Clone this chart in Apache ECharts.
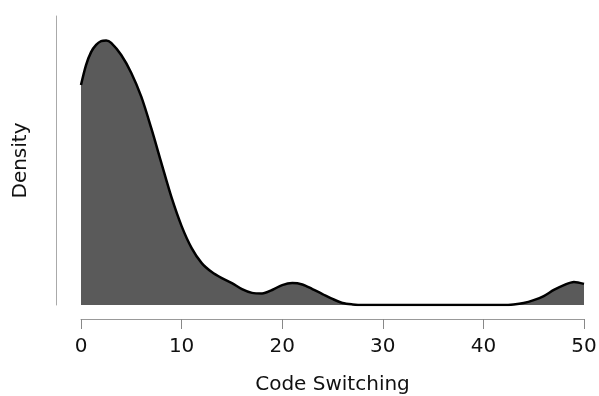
<!DOCTYPE html>
<html>
<head>
<meta charset="utf-8">
<script src="https://cdn.jsdelivr.net/npm/echarts@6/dist/echarts.min.js"></script>
<style>
  html, body { margin: 0; padding: 0; background: #fff; }
  #chart { width: 599px; height: 396px; }
</style>
</head>
<body>
<div id="chart"></div>
<script>
// kernel density estimate
const xValues = [0, 0.5, 1, 1.5, 2, 2.5, 3, 4, 5, 6, 7, 8, 9, 10, 11, 12, 13, 14, 15, 16, 17, 18, 19, 20,
  21, 22, 23, 24, 25, 26, 27, 28, 30, 32, 34, 36, 38, 40, 42, 43, 44, 45, 46, 47, 48, 49, 50];
const density = [0.0761, 0.0830, 0.0875, 0.0900, 0.0913, 0.0915, 0.0907, 0.0865, 0.0803, 0.0720, 0.0610,
  0.0490, 0.0372, 0.0273, 0.0197, 0.0145, 0.0114, 0.0093, 0.0076, 0.0055, 0.0042, 0.0040, 0.0052, 0.0069,
  0.0076, 0.0071, 0.0055, 0.0038, 0.0021, 0.0007, 0.0002, 0, 0, 0, 0, 0, 0, 0, 0, 0.0002, 0.0007, 0.0017,
  0.0031, 0.0052, 0.0069, 0.0080, 0.0073];
const xTicks = [0, 10, 20, 30, 40, 50];

const chart = echarts.init(document.getElementById("chart"));
const font = "DejaVu Sans";

chart.setOption({
  animation: false,
  grid: { left: 81, right: 15, top: 16, bottom: 91, outerBoundsMode: "none" },
  xAxis: {
    type: "value",
    min: xTicks[0],
    max: xTicks[xTicks.length - 1],
    interval: 10,
    offset: 14,
    name: "Code Switching",
    nameLocation: "middle",
    nameGap: 56,
    nameTextStyle: { fontFamily: font, fontSize: 20, color: "#111" },
    axisLine: { onZero: false, lineStyle: { color: "#999", width: 1 } },
    axisTick: { length: 10, lineStyle: { color: "#888" } },
    axisLabel: { fontFamily: font, fontSize: 20, color: "#111", margin: 18 },
    splitLine: { show: false }
  },
  yAxis: {
    type: "value",
    min: 0,
    max: 0.1,
    offset: 25,
    name: "Density",
    nameLocation: "middle",
    nameGap: 25,
    nameTextStyle: { fontFamily: font, fontSize: 20, color: "#111" },
    axisLine: { show: true, onZero: false, lineStyle: { color: "#aaa", width: 1 } },
    axisTick: { show: false },
    axisLabel: { show: false },
    splitLine: { show: false }
  },
  series: [
    {
      type: "line",
      data: xValues.map((x, i) => [x, density[i]]),
      smooth: 0.3,
      showSymbol: false,
      lineStyle: { color: "#000", width: 2.5 },
      areaStyle: { color: "#5a5a5a", opacity: 1 }
    }
  ]
});
</script>
</body>
</html>
